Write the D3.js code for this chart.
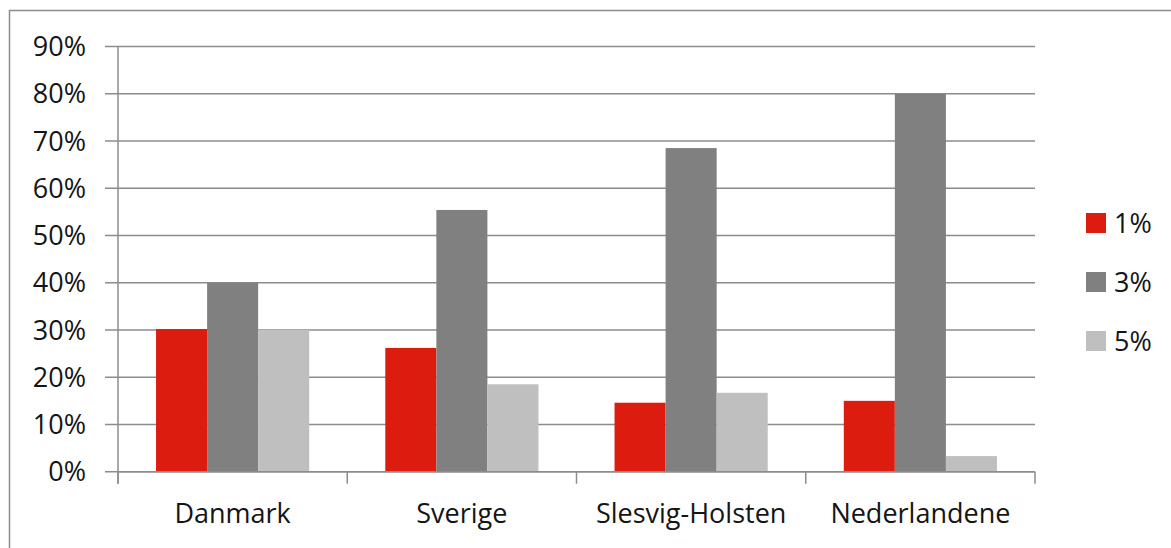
<!DOCTYPE html>
<html>
<head>
<meta charset="utf-8">
<script src="https://cdn.jsdelivr.net/npm/d3@7"></script>
<style>
  body { margin: 0; background: #fff; }
  svg text { font-family: "Open Sans", sans-serif; fill: #151515; }
</style>
</head>
<body>
<svg id="chart"></svg>
<script>
// Kategorier og serier
const categories = ["Danmark", "Sverige", "Slesvig-Holsten", "Nederlandene"];
const seriesNames = ["1%", "3%", "5%"];
const values1 = [0.302, 0.262, 0.146, 0.150];
const values3 = [0.400, 0.554, 0.685, 0.800];
const values5 = [0.300, 0.185, 0.167, 0.033];
const yTicks = [0, 0.1, 0.2, 0.3, 0.4, 0.5, 0.6, 0.7, 0.8, 0.9];

const colors = ["#dc1c0f", "#808080", "#bfbfbf"];
const allValues = [values1, values3, values5];

const width = 1171, height = 548;
const svg = d3.select("#chart")
    .attr("width", width)
    .attr("height", height);

// Ramme rundt om diagrammet (kun top og venstre er synlig)
svg.append("rect")
    .attr("x", 9.5)
    .attr("y", 10.5)
    .attr("width", 1200)
    .attr("height", 600)
    .attr("fill", "none")
    .attr("stroke", "#8c8c8c")
    .attr("stroke-width", 1.5);

const plotLeft = 118, plotRight = 1035, plotTop = 46.5, plotBottom = 471.7;

const x = d3.scaleBand()
    .domain(categories)
    .range([plotLeft, plotRight]);

const xInner = d3.scaleBand()
    .domain(seriesNames)
    .range([0, x.bandwidth()])
    .paddingOuter(0.745);

const y = d3.scaleLinear()
    .domain([0, 0.9])
    .range([plotBottom, plotTop]);

// Gitterlinjer
svg.append("g")
    .selectAll("line")
    .data(yTicks)
    .join("line")
    .attr("x1", plotLeft - 13)
    .attr("x2", plotRight)
    .attr("y1", d => y(d))
    .attr("y2", d => y(d))
    .attr("stroke", "#8c8c8c")
    .attr("stroke-width", 1.5);

// Y-akse etiketter
svg.append("g")
    .selectAll("text")
    .data(yTicks)
    .join("text")
    .attr("x", 86)
    .attr("y", d => y(d))
    .attr("dy", "0.36em")
    .attr("text-anchor", "end")
    .style("font-size", "27px")
    .text(d => d3.format(".0%")(d));

// Søjler
const groups = svg.append("g")
    .selectAll("g")
    .data(categories)
    .join("g")
    .attr("transform", d => `translate(${x(d)},0)`);

groups.selectAll("rect")
    .data((c, i) => seriesNames.map((s, j) => ({ s, v: allValues[j][i], j })))
    .join("rect")
    .attr("x", d => xInner(d.s))
    .attr("width", xInner.bandwidth())
    .attr("y", d => y(d.v))
    .attr("height", d => y(0) - y(d.v))
    .attr("fill", d => colors[d.j]);

// Akselinjer
svg.append("line")
    .attr("x1", plotLeft).attr("x2", plotLeft)
    .attr("y1", plotTop).attr("y2", plotBottom + 12)
    .attr("stroke", "#8c8c8c").attr("stroke-width", 1.5);

svg.append("line")
    .attr("x1", plotLeft).attr("x2", plotRight)
    .attr("y1", plotBottom).attr("y2", plotBottom)
    .attr("stroke", "#8c8c8c").attr("stroke-width", 1.5);

const xTickPos = categories.map(c => x(c)).concat([plotRight]);
svg.append("g")
    .selectAll("line")
    .data(xTickPos)
    .join("line")
    .attr("x1", d => d).attr("x2", d => d)
    .attr("y1", plotBottom).attr("y2", plotBottom + 12)
    .attr("stroke", "#8c8c8c").attr("stroke-width", 1.5);

// Kategori etiketter
svg.append("g")
    .selectAll("text")
    .data(categories)
    .join("text")
    .attr("x", d => x(d) + x.bandwidth() / 2)
    .attr("y", 523)
    .attr("text-anchor", "middle")
    .style("font-size", "27px")
    .text(d => d);

// Forklaring
const legend = svg.append("g")
    .selectAll("g")
    .data(seriesNames)
    .join("g")
    .attr("transform", (d, i) => `translate(1086, ${223 + i * 59})`);

legend.append("rect")
    .attr("x", 0)
    .attr("y", -10)
    .attr("width", 20)
    .attr("height", 20)
    .attr("fill", (d, i) => colors[i]);

legend.append("text")
    .attr("x", 28)
    .attr("y", 0)
    .attr("dy", "0.36em")
    .style("font-size", "27px")
    .text(d => d);
</script>
</body>
</html>
